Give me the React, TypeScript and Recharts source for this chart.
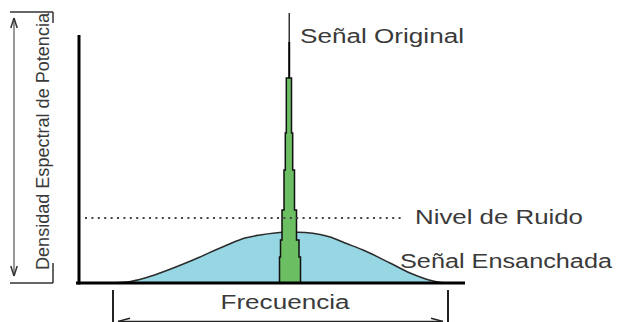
import React from 'react';
import { ComposedChart, Area, XAxis, YAxis, ReferenceLine, ReferenceDot } from 'recharts';

// Frequency offset from the carrier (units) and power spectral density (units)
const bellFreq = [-90, -81.5, -72.5, -65, -48.5, -31.5, -22.5, -15, -7.5, 0, 7.5, 15, 20, 27.5, 36.5, 50, 60, 71.5, 77.5];
const bellPower = [0, 0.5, 2.5, 5, 11.5, 19, 22.5, 24, 25, 25.5, 25.2, 24.2, 23, 20, 16.5, 10, 5, 1, 0];

// Original (narrow-band) signal: stepped spike
const spikeLevels = [0, 13, 21.5, 36.5, 56.5, 75, 102.5];
const spikeLeft = [-5.25, -4.75, -4, -3, -2.35, -1.85];
const spikeRight = [5.25, 4.5, 3.25, 2.25, 1.35, 0.75];
const carrierFreq = -0.4;
const carrierTops = [120.5, 135];

const noiseLevel = 32.5;
const noiseFrom = -102.5;
const noiseTo = 57.5;

const axisTop = 124;
const axisFreqStart = -105.5;
const axisFreqEnd = 87.5;

const bellData = bellFreq.map((f, i) => ({ f, p: bellPower[i] }));
const spikeData: { f: number; p: number }[] = [];
for (let i = 0; i < spikeLeft.length; i++) {
  spikeData.push({ f: spikeLeft[i], p: spikeLevels[i] });
  spikeData.push({ f: spikeLeft[i], p: spikeLevels[i + 1] });
}
for (let i = spikeRight.length - 1; i >= 0; i--) {
  spikeData.push({ f: spikeRight[i], p: spikeLevels[i + 1] });
  spikeData.push({ f: spikeRight[i], p: spikeLevels[i] });
}

const FONT = 'Liberation Sans, Arial, Helvetica, sans-serif';
const TXT = '#3a3a3a';

function makeLabel(text: string, len: number | undefined, anchor: string, size: number, rotate = false) {
  return (props: any) => {
    const vb = props.viewBox || {};
    const x = (vb.x ?? vb.cx ?? 0) + (vb.width || 0) / 2;
    const y = (vb.y ?? vb.cy ?? 0) + (vb.height || 0) / 2;
    return (
      <text
        x={x}
        y={y}
        textAnchor={anchor as any}
        fontSize={size}
        fill={TXT}
        fontFamily={FONT}
        textLength={len}
        lengthAdjust={len ? 'spacingAndGlyphs' : undefined}
        transform={rotate ? `rotate(-90 ${x} ${y})` : undefined}
      >
        {text}
      </text>
    );
  };
}

const labels = [
  { text: 'Señal Original', f: 5, p: 120, len: 164, anchor: 'start', size: 20 },
  { text: 'Nivel de Ruido', f: 62.5, p: 29.5, len: 168, anchor: 'start', size: 20 },
  { text: 'Señal Ensanchada', f: 55, p: 7.5, len: 212, anchor: 'start', size: 20 },
  { text: 'Frecuencia', f: -2.5, p: -13.2, len: 129, anchor: 'middle', size: 20 },
];

const seg = (x1: number, y1: number, x2: number, y2: number) => [
  { x: x1, y: y1 },
  { x: x2, y: y2 },
];

export default function App() {
  const lines: { s: any; w: number; c: string; dash?: string }[] = [
    // axes
    { s: seg(axisFreqStart, -0.75, axisFreqStart, axisTop), w: 3, c: '#000' },
    { s: seg(axisFreqStart - 1.5, 0, axisFreqEnd, 0), w: 3, c: '#000' },
    // carrier line above spike
    { s: seg(carrierFreq, spikeLevels[spikeLevels.length - 1], carrierFreq, carrierTops[0]), w: 2, c: '#000' },
    { s: seg(carrierFreq, carrierTops[0], carrierFreq, carrierTops[1]), w: 1.2, c: '#000' },
    // noise level
    { s: seg(noiseFrom, noiseLevel, noiseTo, noiseLevel), w: 2, c: '#444', dash: '2 4.4' },
    // frequency bracket
    { s: seg(-88.5, -3.5, -88.5, -20), w: 2, c: '#222' },
    { s: seg(79, -3.5, 79, -20), w: 2, c: '#222' },
    { s: seg(-86, -19.2, 76.5, -19.2), w: 1.2, c: '#222' },
    { s: seg(-86, -19.2, -80, -17.6), w: 1.5, c: '#222' },
    { s: seg(76.5, -19.2, 70.5, -17.6), w: 1.5, c: '#222' },
    // power density bracket
    { s: seg(-140, 135.5, -118.5, 135.5), w: 1.5, c: '#333' },
    { s: seg(-140, 0, -118.5, 0), w: 1.5, c: '#333' },
    { s: seg(-118.5, 135.5, -118.5, 130), w: 1.5, c: '#333' },
    { s: seg(-118.5, 10, -118.5, 0), w: 1.5, c: '#333' },
    { s: seg(-138, 132, -138, 4), w: 1, c: '#333' },
    { s: seg(-138, 132.5, -139.6, 127.5), w: 1.5, c: '#333' },
    { s: seg(-138, 132.5, -136.4, 127.5), w: 1.5, c: '#333' },
    { s: seg(-138, 3.5, -139.6, 8.5), w: 1.5, c: '#333' },
    { s: seg(-138, 3.5, -136.4, 8.5), w: 1.5, c: '#333' },
  ];

  return (
    <div style={{ position: 'fixed', left: 0, top: 0, width: 620, height: 322, background: '#fff' }}>
      <ComposedChart width={620} height={322} margin={{ top: 0, right: 0, bottom: 0, left: 0 }}>
        <XAxis dataKey="f" type="number" domain={[-145, 165]} allowDataOverflow hide />
        <YAxis type="number" domain={[-19.5, 141.5]} allowDataOverflow hide />
        <Area
          data={bellData}
          dataKey="p"
          type="monotone"
          baseValue={0}
          fill="#97D7E4"
          fillOpacity={1}
          stroke="#2b2b2b"
          strokeWidth={1.5}
          dot={false}
          activeDot={false}
          isAnimationActive={false}
        />
        <Area
          data={spikeData}
          dataKey="p"
          type="linear"
          baseValue={0}
          fill="#6BBE62"
          fillOpacity={1}
          stroke="#111"
          strokeWidth={1.5}
          dot={false}
          activeDot={false}
          isAnimationActive={false}
        />
        {lines.map((l, i) => (
          <ReferenceLine
            key={i}
            segment={l.s}
            stroke={l.c}
            strokeWidth={l.w}
            strokeDasharray={l.dash}
            ifOverflow="visible"
          />
        ))}
        {labels.map((l, i) => (
          <ReferenceDot
            key={'t' + i}
            x={l.f}
            y={l.p}
            r={0}
            fill="none"
            stroke="none"
            ifOverflow="visible"
            label={{ content: makeLabel(l.text, l.len, l.anchor, l.size) }}
          />
        ))}
        <ReferenceDot
          x={-120.75}
          y={70.75}
          r={0}
          fill="none"
          stroke="none"
          ifOverflow="visible"
          label={{ content: makeLabel('Densidad Espectral de Potencia', 257, 'middle', 18, true) }}
        />
      </ComposedChart>
    </div>
  );
}
